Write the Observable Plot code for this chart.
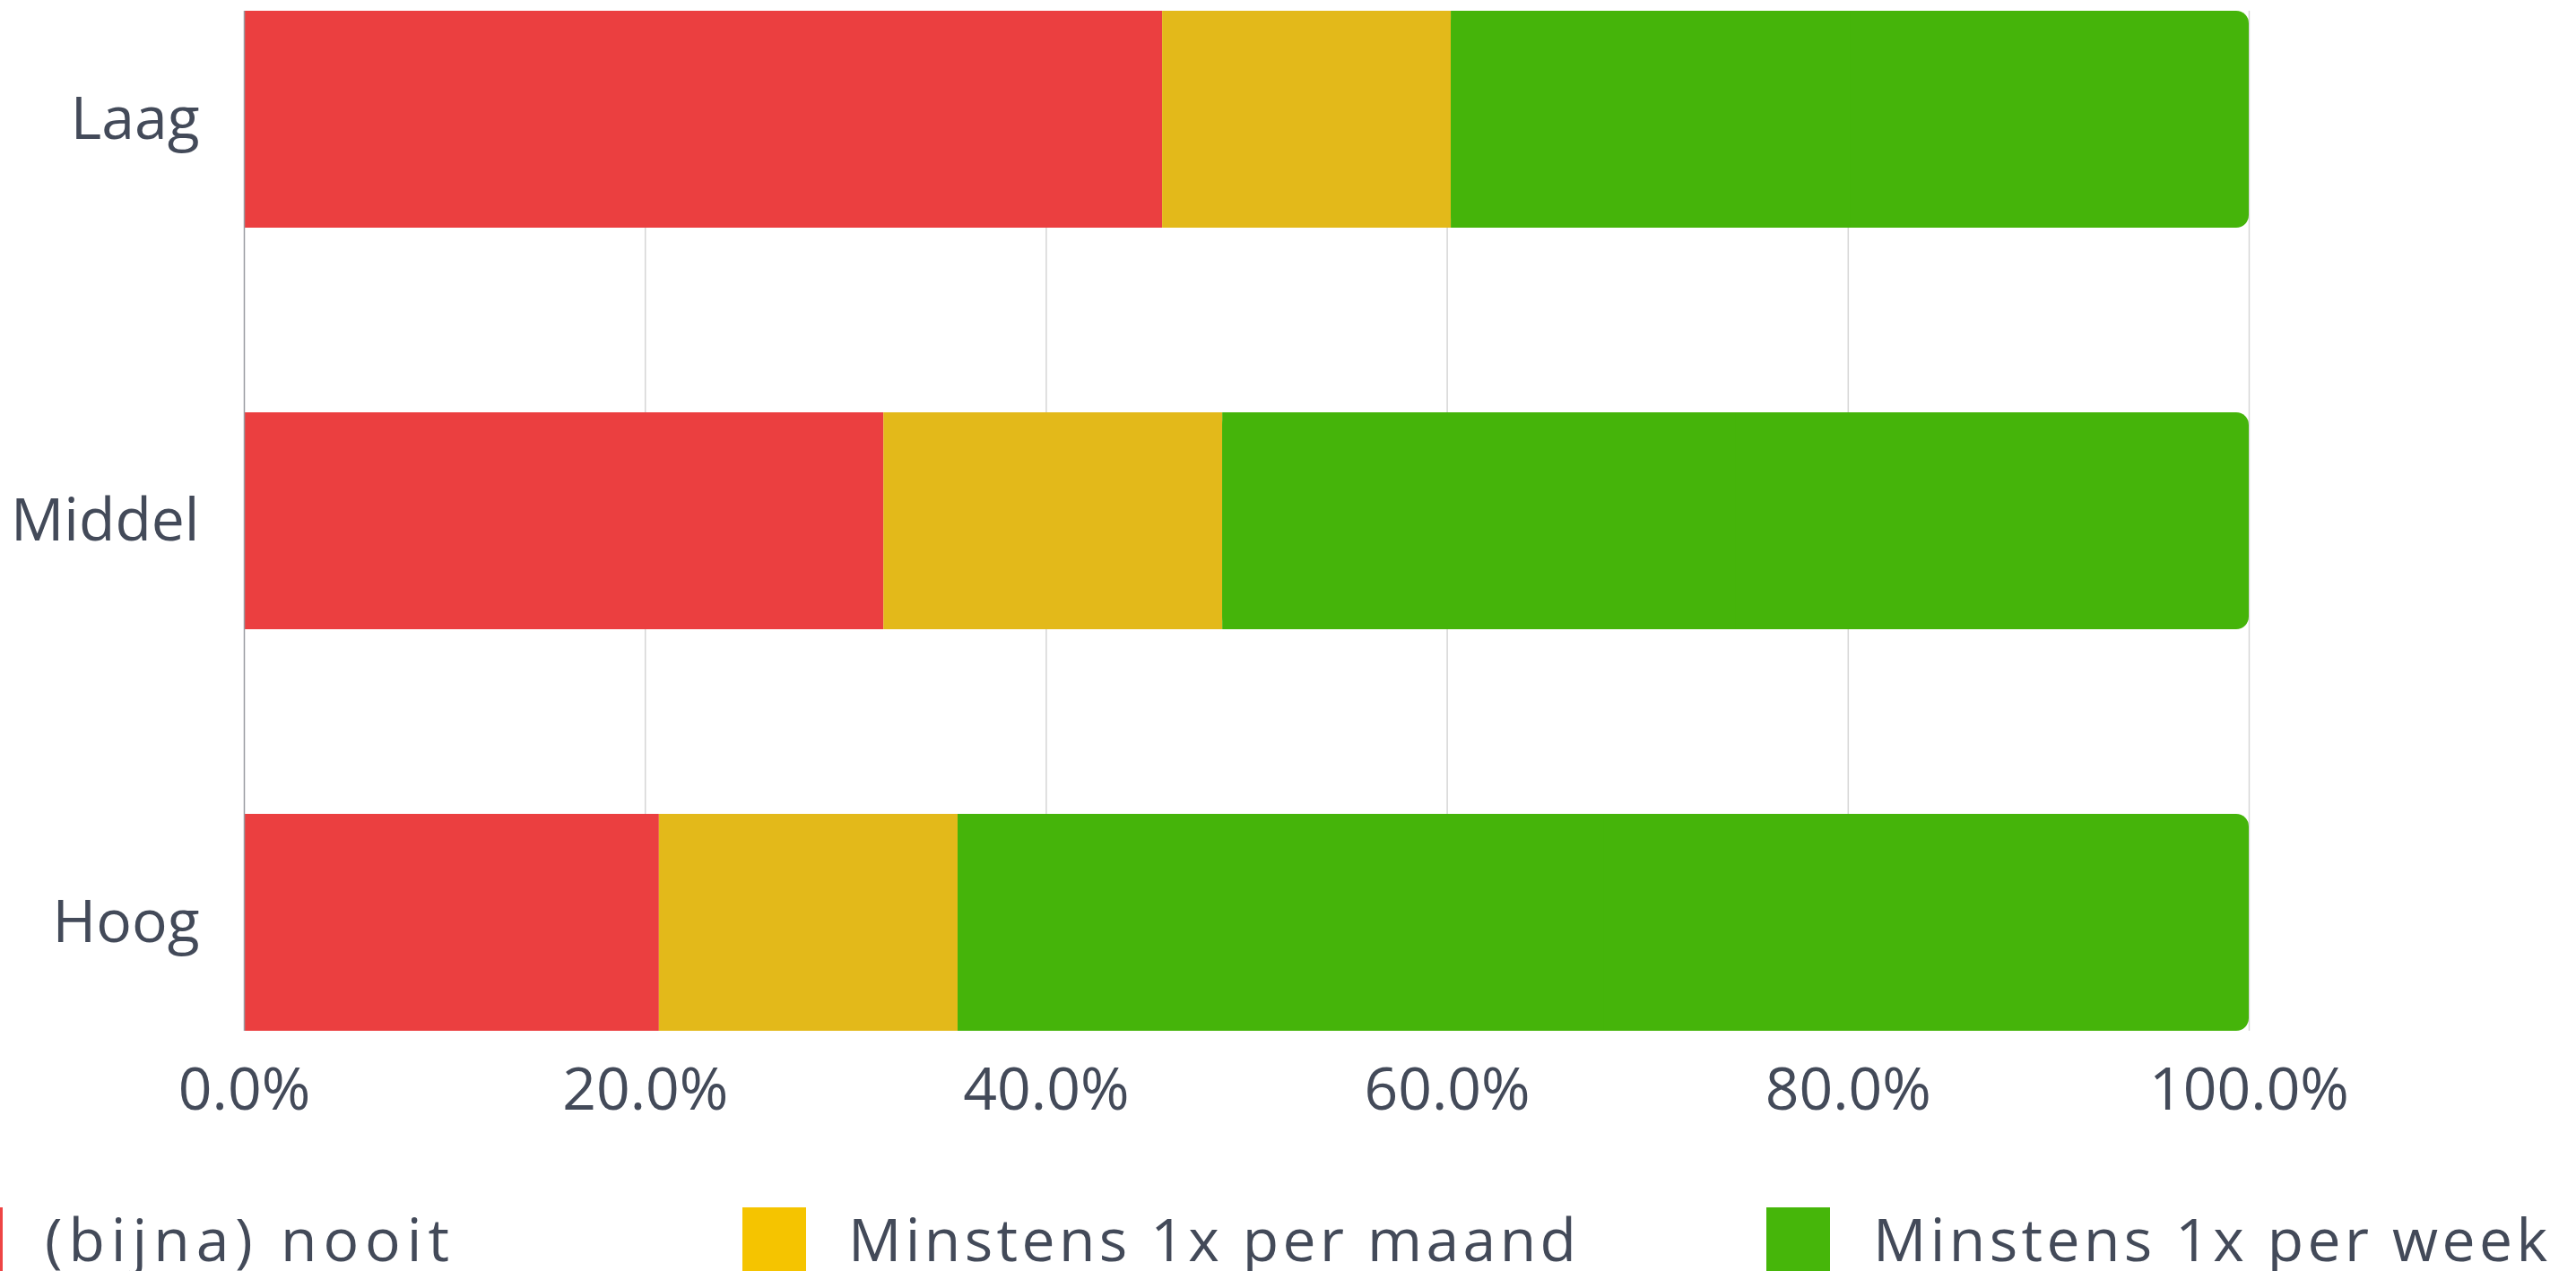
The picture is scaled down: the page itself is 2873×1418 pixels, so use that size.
<!DOCTYPE html>
<html><head><meta charset="utf-8">
<script src="https://cdn.jsdelivr.net/npm/d3@7"></script>
<script src="https://cdn.jsdelivr.net/npm/@observablehq/plot@0.6"></script>
<style>
html,body{margin:0;padding:0;background:#fff;overflow:hidden;}
#wrap{position:relative;width:2873px;height:1418px;overflow:hidden;font-family:"Open Sans",sans-serif;}
#legend{position:relative;width:2873px;height:128px;}
.sw{position:absolute;top:57px;width:71px;height:71px;}
.lab{position:absolute;top:58px;font-size:66px;line-height:66px;color:#434a59;white-space:nowrap;}
</style></head>
<body><div id="wrap"><div id="chart"></div><div id="legend"></div></div>
<script>
const levels = ["Laag", "Middel", "Hoog"];
const categories = ["(bijna) nooit", "Minstens 1x per maand", "Minstens 1x per week"];
const nooit = [45.8, 31.9, 20.7];
const maand = [14.4, 16.9, 14.9];
const week = [39.8, 51.2, 64.4];
const xTicks = [0, 20, 40, 60, 80, 100];
const barColors = ["#eb3f40", "#e3b91a", "#45b40a"];
const legendColors = ["#ee4444", "#f5c400", "#46b60a"];

const series = [nooit, maand, week];
const rows = [];
levels.forEach((lv, i) => {
  let acc = 0;
  categories.forEach((c, j) => {
    const v = series[j][i];
    rows.push({level: lv, cat: c, x1: acc, x2: acc + v});
    acc += v;
  });
});
const flat = rows.filter(r => r.cat !== categories[2]);
const green = rows.filter(r => r.cat === categories[2]);

const chart = Plot.plot({
  width: 2873,
  height: 1290,
  marginLeft: 272,
  marginRight: 365,
  marginTop: 12,
  marginBottom: 140,
  style: {fontFamily: "'Open Sans', sans-serif", fontSize: "66px", color: "#434a59", background: "white"},
  x: {domain: [0, 100]},
  y: {domain: levels, paddingInner: 0.46, paddingOuter: 0},
  color: {domain: categories, range: barColors},
  marks: [
    Plot.ruleX(xTicks.filter(d => d > 0), {stroke: "#d6d6d6", strokeWidth: 1.5}),
    Plot.barX(flat, {x1: "x1", x2: "x2", y: "level", fill: "cat"}),
    Plot.barX(green, {x1: "x1", x2: "x2", y: "level", fill: "cat", rx: 14}),
    Plot.barX(green, {x1: "x1", x2: d => (d.x1 + d.x2) / 2, y: "level", fill: "cat"}),
    Plot.ruleX([0], {stroke: "#9a9ca2", strokeWidth: 1.5}),
    Plot.axisX({ticks: xTicks, tickFormat: d => d.toFixed(1) + "%", tickSize: 0, tickPadding: 41, label: null}),
    Plot.axisY({tickSize: 0, tickPadding: 50, label: null})
  ]
});
document.getElementById("chart").appendChild(chart);

const legendPos = [[-68, 50, 7], [828, 946, 4.4], [1970, 2089, 4.4]];
const leg = document.getElementById("legend");
categories.forEach((c, i) => {
  const sw = document.createElement("div");
  sw.className = "sw";
  sw.style.left = legendPos[i][0] + "px";
  sw.style.background = legendColors[i];
  leg.appendChild(sw);
  const lab = document.createElement("div");
  lab.className = "lab";
  lab.style.left = legendPos[i][1] + "px";
  lab.style.letterSpacing = legendPos[i][2] + "px";
  lab.textContent = c;
  leg.appendChild(lab);
});
</script></body></html>
